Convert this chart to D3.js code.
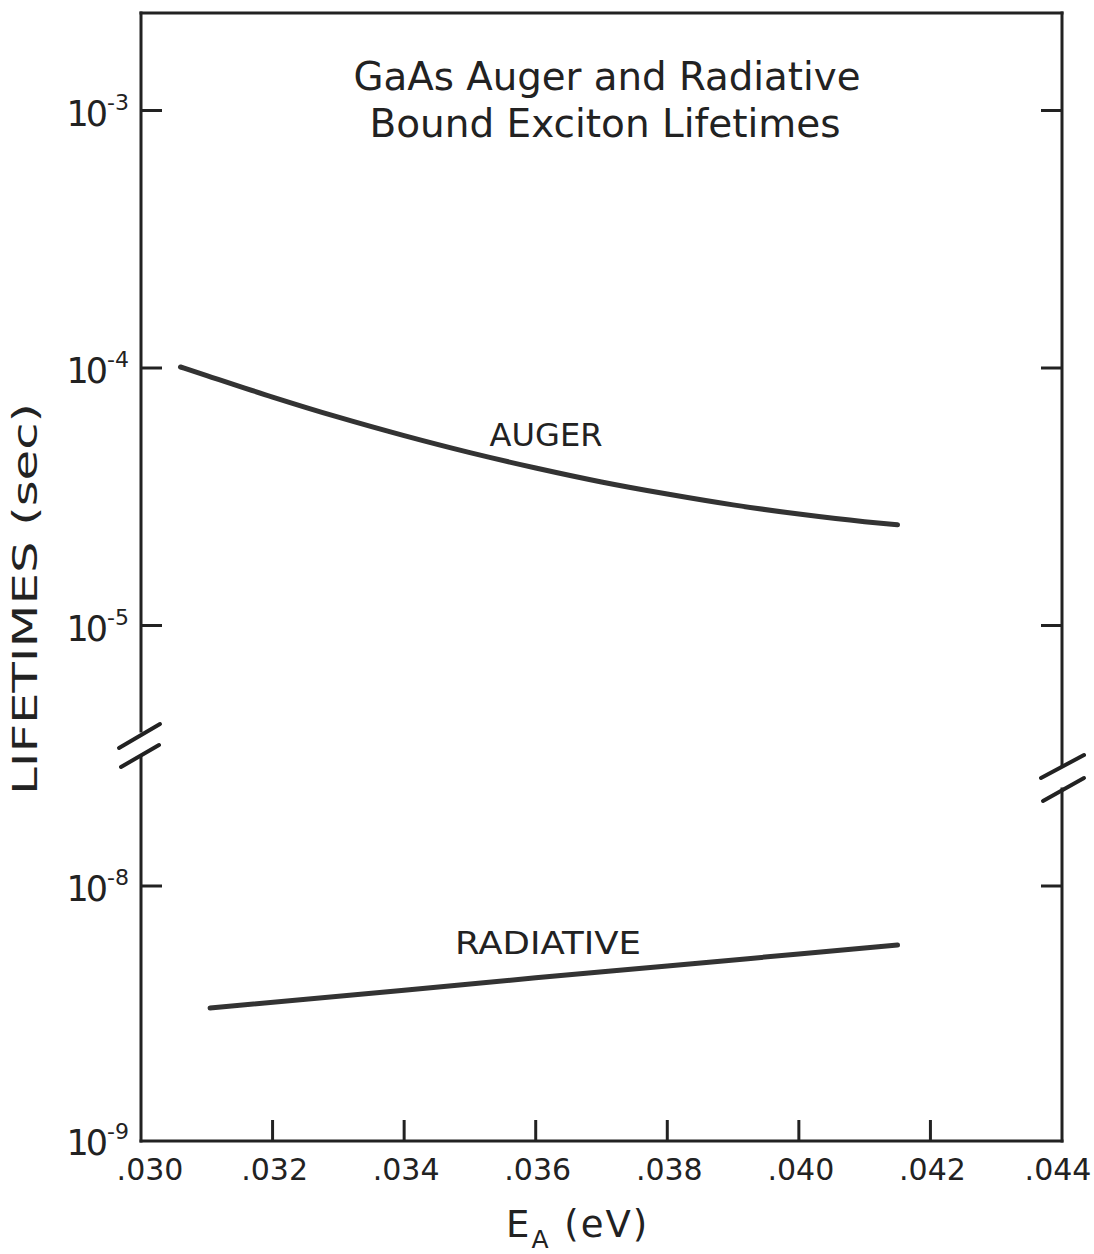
<!DOCTYPE html>
<html><head><meta charset="utf-8">
<script src="https://cdn.jsdelivr.net/npm/d3@7"></script>
<style>body{margin:0;background:#fff}svg{display:block}</style>
</head><body>
<svg id="c" width="1094" height="1254"></svg>
<script>
// ---- data ----
const energyTicks = [0.030, 0.032, 0.034, 0.036, 0.038, 0.040, 0.042, 0.044];
const energyTickLabels = [".030", ".032", ".034", ".036", ".038", ".040", ".042", ".044"];
const upperTicks = [1e-3, 1e-4, 1e-5];
const upperTickExps = ["-3", "-4", "-5"];
const lowerTicks = [1e-8, 1e-9];
const lowerTickExps = ["-8", "-9"];
const augerE = [0.0306, 0.031, 0.032, 0.033, 0.034, 0.035, 0.036, 0.037, 0.038, 0.039, 0.040, 0.041, 0.0415];
const augerTau = [1.009e-4, 9.35e-5, 7.71e-5, 6.44e-5, 5.46e-5, 4.69e-5, 4.09e-5, 3.61e-5, 3.24e-5, 2.94e-5, 2.71e-5, 2.53e-5, 2.46e-5];
const radE = [0.03105, 0.034, 0.036, 0.038, 0.040, 0.0415];
const radTau = [3.31e-9, 3.89e-9, 4.35e-9, 4.84e-9, 5.40e-9, 5.86e-9];
const titleLines = ["GaAs Auger and Radiative", "Bound Exciton Lifetimes"];

// ---- layout ----
const L = 141, R = 1062, T = 13, B = 1141;
const ink = "#222";
const font = "'DejaVu Sans', sans-serif";

const svg = d3.select("#c");
const x = d3.scaleLinear().domain([0.030, 0.044]).range([L, R]);
const yUp = d3.scaleLog().domain([1e-5, 1e-3]).range([625.5, 110.5]);
const yLo = d3.scaleLog().domain([1e-9, 1e-8]).range([1140, 886]);

// frame with breaks
const leftBreak = [731, 757], rightBreak = [766, 789];
const frame = svg.append("g").attr("stroke", ink).attr("stroke-width", 3).attr("fill", "none").attr("stroke-linecap", "square");
frame.append("line").attr("x1", L).attr("y1", T).attr("x2", R).attr("y2", T);
frame.append("line").attr("x1", L).attr("y1", B).attr("x2", R).attr("y2", B);
frame.append("line").attr("x1", L).attr("y1", T).attr("x2", L).attr("y2", leftBreak[0]);
frame.append("line").attr("x1", L).attr("y1", leftBreak[1]).attr("x2", L).attr("y2", B);
frame.append("line").attr("x1", R).attr("y1", T).attr("x2", R).attr("y2", rightBreak[0]);
frame.append("line").attr("x1", R).attr("y1", rightBreak[1]).attr("x2", R).attr("y2", B);
// break slashes
const slashes = svg.append("g").attr("stroke", ink).attr("stroke-width", 4).attr("stroke-linecap", "round");
[[L - 22, leftBreak[0] + 17, L + 19, leftBreak[0] - 7], [L - 20, leftBreak[1] + 10, L + 18, leftBreak[1] - 12],
 [R - 21, rightBreak[0] + 12, R + 22, rightBreak[0] - 11], [R - 19, rightBreak[1] + 12, R + 22, rightBreak[1] - 11]]
  .forEach(s => slashes.append("line").attr("x1", s[0]).attr("y1", s[1]).attr("x2", s[2]).attr("y2", s[3]));

// x ticks (inward) and labels
const tk = 21;
svg.append("g").selectAll("line").data(energyTicks.filter((d, i) => i > 0 && i < energyTicks.length - 1)).join("line")
  .attr("x1", d => x(d)).attr("x2", d => x(d)).attr("y1", B).attr("y2", B - tk)
  .attr("stroke", ink).attr("stroke-width", 3);
svg.append("g").selectAll("text").data(energyTicks).join("text")
  .attr("x", (d, i) => i === 0 ? x(d) + 9 : Math.min(x(d) + 2, 1058)).attr("y", 1180).attr("text-anchor", "middle")
  .attr("font-family", font).attr("font-size", 30).attr("fill", ink)
  .text((d, i) => energyTickLabels[i]);

// y ticks (inward both sides)
const yTicks = upperTicks.map((v, i) => ({y: yUp(v), e: upperTickExps[i]}))
  .concat(lowerTicks.map((v, i) => ({y: yLo(v), e: lowerTickExps[i], bottom: v === 1e-9})));
const yt = svg.append("g").attr("stroke", ink).attr("stroke-width", 3);
yTicks.filter(d => !d.bottom).forEach(d => {
  yt.append("line").attr("x1", L).attr("x2", L + tk).attr("y1", d.y).attr("y2", d.y);
  yt.append("line").attr("x1", R).attr("x2", R - tk).attr("y1", d.y).attr("y2", d.y);
});
const ylab = svg.append("g").selectAll("text").data(yTicks).join("text")
  .attr("x", 129).attr("y", d => d.y + 15).attr("text-anchor", "end")
  .attr("font-family", font).attr("fill", ink);
ylab.append("tspan").attr("font-size", 35).attr("letter-spacing", -3).text("10");
ylab.append("tspan").attr("font-size", 22).attr("dx", 2).attr("dy", -16).text(d => d.e);

// curves
const line = (ys) => d3.line().x(d => x(d[0])).y(d => ys(d[1])).curve(d3.curveMonotoneX);
svg.append("path").datum(augerE.map((e, i) => [e, augerTau[i]]))
  .attr("d", line(yUp)).attr("fill", "none").attr("stroke", "#333").attr("stroke-width", 5).attr("stroke-linecap", "round");
svg.append("path").datum(radE.map((e, i) => [e, radTau[i]]))
  .attr("d", line(yLo)).attr("fill", "none").attr("stroke", "#333").attr("stroke-width", 5).attr("stroke-linecap", "round");

// curve labels
svg.append("text").attr("x", 546).attr("y", 446).attr("text-anchor", "middle")
  .attr("font-family", font).attr("font-size", 32).attr("fill", ink)
  .attr("textLength", 113).attr("lengthAdjust", "spacingAndGlyphs").text("AUGER");
svg.append("text").attr("x", 548).attr("y", 954).attr("text-anchor", "middle")
  .attr("font-family", font).attr("font-size", 32).attr("fill", ink)
  .attr("textLength", 186).attr("lengthAdjust", "spacingAndGlyphs").text("RADIATIVE");

// title
svg.append("text").attr("x", 607).attr("y", 90).attr("text-anchor", "middle")
  .attr("font-family", font).attr("font-size", 39).attr("fill", ink)
  .attr("textLength", 507).attr("lengthAdjust", "spacingAndGlyphs").text(titleLines[0]);
svg.append("text").attr("x", 605).attr("y", 137).attr("text-anchor", "middle")
  .attr("font-family", font).attr("font-size", 39).attr("fill", ink)
  .attr("textLength", 471).attr("lengthAdjust", "spacingAndGlyphs").text(titleLines[1]);

// axis titles
svg.append("text").attr("transform", "translate(37,599) rotate(-90)").attr("text-anchor", "middle")
  .attr("font-family", font).attr("font-size", 34).attr("fill", ink)
  .attr("textLength", 392).attr("lengthAdjust", "spacingAndGlyphs").text("LIFETIMES (sec)");
const xt = svg.append("text").attr("x", 506).attr("y", 1237)
  .attr("font-family", font).attr("font-size", 37).attr("letter-spacing", 2).attr("fill", ink);
xt.append("tspan").text("E");
xt.append("tspan").attr("font-size", 25).attr("dy", 11).text("A");
xt.append("tspan").attr("dy", -11).text(" (eV)");
</script>
</body></html>
